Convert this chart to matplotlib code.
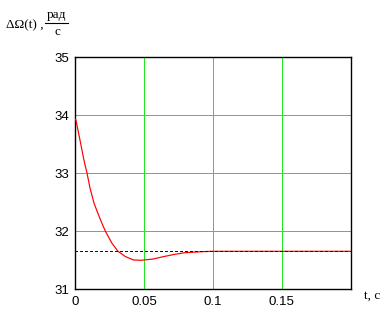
import matplotlib
matplotlib.use("Agg")
import matplotlib.pyplot as plt
from matplotlib.lines import Line2D

# Data
t = [0.0, 0.0007, 0.0036, 0.0065, 0.0087, 0.0109, 0.0138, 0.0167, 0.0196, 0.0222,
     0.0268, 0.0312, 0.0365, 0.0425, 0.048, 0.0568, 0.064, 0.0725, 0.0797, 0.0918,
     0.1, 0.12, 0.15, 0.2]
omega = [33.93, 33.91, 33.57, 33.22, 33.0, 32.74, 32.48, 32.30, 32.13, 31.99,
         31.79, 31.65, 31.56, 31.50, 31.495, 31.517, 31.557, 31.598, 31.626, 31.643,
         31.65, 31.65, 31.65, 31.65]
steady = 31.65
xticks = [0, 0.05, 0.1, 0.15]
xticklabels = ["0", "0.05", "0.1", "0.15"]
yticks = [31, 32, 33, 34, 35]
yticklabels = ["31", "32", "33", "34", "35"]

W, H = 382, 311
fig = plt.figure(figsize=(W / 100, H / 100), dpi=100)
L, R, T, B = 75, 350.5, 57, 289
ax = fig.add_axes([L / W, (H - B) / H, (R - L) / W, (B - T) / H])

ax.set_xlim(0, 0.2)
ax.set_ylim(31, 35)

px = 0.72
grid_color = "#22e622"
for xv in xticks[1:]:
    ax.axvline(xv, color=grid_color, lw=px, zorder=1, antialiased=False)
for yv in yticks[1:-1]:
    ax.axhline(yv, color=grid_color, lw=px, zorder=1, antialiased=False)

ax.plot(t, omega, color="#ff0000", lw=px * 1.2, zorder=3)
ax.axhline(steady, color="#0000b4", lw=px, ls=(0, (2.8, 2.8)), zorder=4,
           antialiased=False)

ax.set_xticks(xticks)
ax.set_xticklabels(xticklabels)
ax.set_yticks(yticks)
ax.set_yticklabels(yticklabels)
ax.tick_params(length=0, labelsize=9.5)
for lab in ax.get_xticklabels() + ax.get_yticklabels():
    lab.set_fontfamily("Liberation Sans")
ax.tick_params(axis="x", pad=5)
ax.tick_params(axis="y", pad=4)

for s in ax.spines.values():
    s.set_color("black")
    s.set_linewidth(1.0)

serif = "Liberation Serif"
# Y label: ΔΩ(t) , рад / с
fig.text(6 / W, 1 - 25 / H, "ΔΩ(t) ,", family=serif, fontsize=9.5,
         ha="left", va="center")
fig.text(57 / W, 1 - 15 / H, "рад", family=serif, fontsize=9.5,
         ha="center", va="center")
fig.text(57 / W, 1 - 32 / H, "с", family=serif, fontsize=9.5,
         ha="center", va="center")
fig.add_artist(Line2D([45 / W, 68 / W], [1 - 23 / H, 1 - 23 / H],
                      transform=fig.transFigure, color="black", lw=0.8))
# X label
fig.text(380 / W, 1 - 296 / H, "t, c", family=serif, fontsize=9.5,
         ha="right", va="center")

fig.savefig("out.png", dpi=100)
